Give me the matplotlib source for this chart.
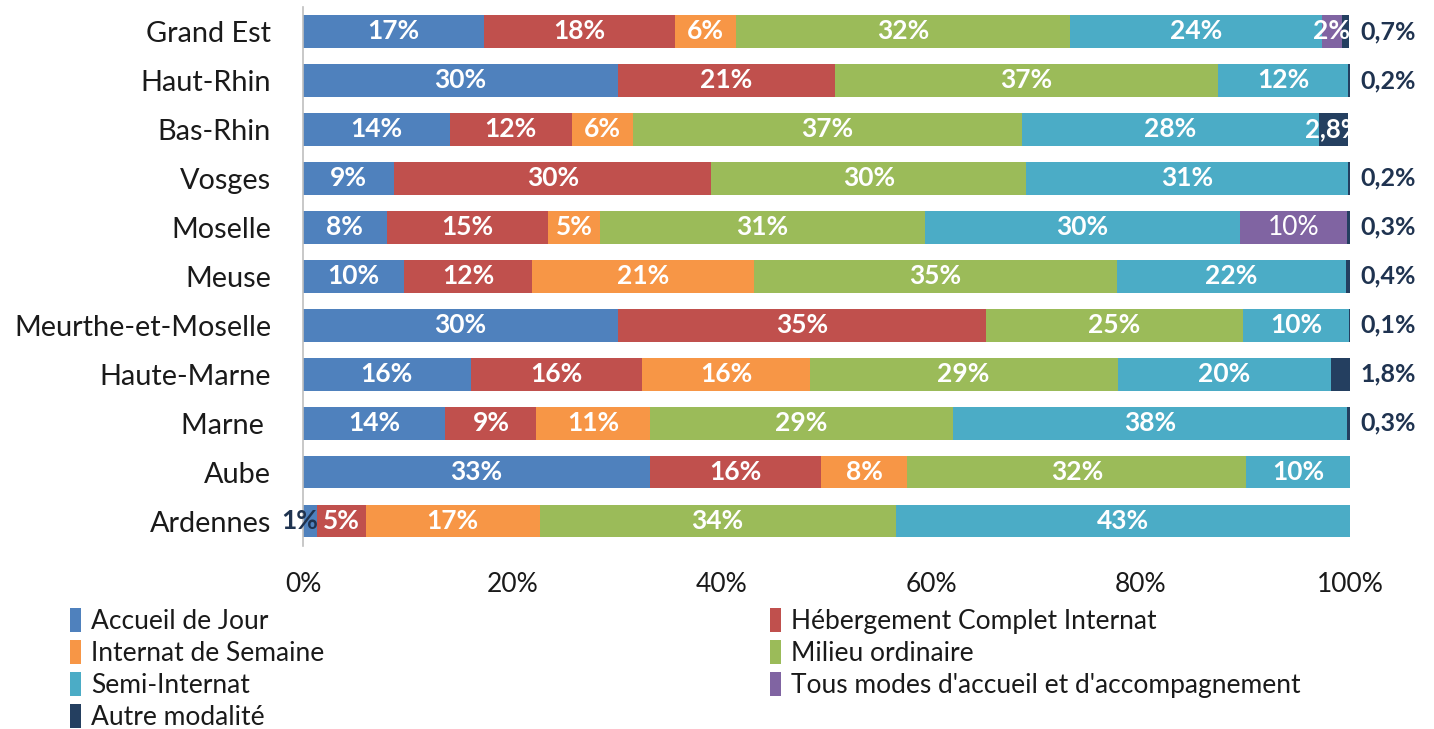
import matplotlib
matplotlib.use("Agg")
import matplotlib.pyplot as plt
from matplotlib.patches import Patch

plt.rcParams['font.family'] = ['Lato', 'DejaVu Sans']

categories = ["Grand Est", "Haut-Rhin", "Bas-Rhin", "Vosges", "Moselle", "Meuse",
              "Meurthe-et-Moselle", "Haute-Marne", "Marne ", "Aube", "Ardennes"]
series_names = ["Accueil de Jour", "Hébergement Complet Internat", "Internat de Semaine",
                "Milieu ordinaire", "Semi-Internat", "Tous modes d'accueil et d'accompagnement",
                "Autre modalité"]
accueil_jour = [17.3, 30.1, 14.0, 8.7, 8.0, 9.6, 30.1, 16.0, 13.6, 33.1, 1.3]
hebergement = [18.2, 20.7, 11.7, 30.3, 15.4, 12.3, 35.1, 16.4, 8.7, 16.4, 4.7]
internat_semaine = [5.9, 0.0, 5.8, 0.0, 5.0, 21.2, 0.0, 16.0, 10.8, 8.2, 16.6]
milieu_ordinaire = [31.9, 36.6, 37.2, 30.1, 31.0, 34.6, 24.6, 29.4, 29.0, 32.4, 34.0]
semi_internat = [24.0, 12.4, 28.3, 30.7, 30.1, 21.9, 10.1, 20.4, 37.6, 9.9, 43.4]
tous_modes = [1.9, 0.0, 0.0, 0.0, 10.2, 0.0, 0.0, 0.0, 0.0, 0.0, 0.0]
autre = [0.7, 0.2, 2.8, 0.2, 0.3, 0.4, 0.1, 1.8, 0.3, 0.0, 0.0]

data = [accueil_jour, hebergement, internat_semaine, milieu_ordinaire,
        semi_internat, tous_modes, autre]
colors = ["#4F81BD", "#C0504D", "#F79646", "#9BBB59", "#4BACC6", "#8064A2", "#243F60"]
navy_text = "#1F3350"

fig = plt.figure(figsize=(14.34, 7.29), dpi=100)
ax = fig.add_axes([303/1434, 1-545.5/729, (1350-303)/1434, (545.5-7)/729])

ypos = list(range(len(categories)))
left = [0.0]*len(categories)
for si, (vals, col) in enumerate(zip(data, colors)):
    ax.barh(ypos, vals, left=left, height=0.67, color=col, linewidth=0.0)
    for i, v in enumerate(vals):
        if v <= 0:
            continue
        cx = left[i] + v/2
        if si == 6:
            txt = f"{v:.1f}".replace('.', ',') + '%'
            if v >= 2:
                ax.text(cx, i, txt, ha='center', va='center', color='white',
                        fontsize=18.5, fontweight='bold')
            else:
                ax.text(101.0, i, txt, ha='left', va='center', color=navy_text,
                        fontsize=18, fontweight='bold')
        else:
            txt = f"{v:.0f}%"
            if si == 0 and v < 2:
                ax.text(left[i] + v + 0.1, i, txt, ha='right', va='center',
                        color=navy_text, fontsize=19, fontweight='bold')
                continue
            weight = 'normal' if (si == 5 and v >= 5) else 'bold'
            ax.text(cx, i, txt, ha='center', va='center', color='white',
                    fontsize=19, fontweight=weight)
    left = [l + v for l, v in zip(left, vals)]

ax.set_xlim(0, 100)
ax.set_ylim(len(categories)-0.5, -0.5)
ax.set_yticks(ypos)
ax.set_yticklabels(categories, fontsize=20.8, color='#1a1a1a')
ax.set_xticks([0, 20, 40, 60, 80, 100])
ax.set_xticklabels([f"{t}%" for t in [0, 20, 40, 60, 80, 100]], fontsize=19, color='#1a1a1a')
ax.tick_params(axis='y', length=0, pad=23)
ax.tick_params(axis='x', length=0, pad=19)
for s in ['top', 'right', 'bottom']:
    ax.spines[s].set_visible(False)
ax.spines['left'].set_color('#BFBFBF')
ax.spines['left'].set_linewidth(1.2)

handles = [Patch(facecolor=c, edgecolor='none', label=n) for c, n in zip(colors, series_names)]
common = dict(frameon=False, fontsize=19, handlelength=0.4, handleheight=1.0,
              handletextpad=0.4, labelspacing=0.23, borderpad=0.0, loc='upper left')
leg1 = fig.legend(handles=[handles[0], handles[2], handles[4], handles[6]],
                  bbox_to_anchor=(57/1434, 1-595/729), **common)
for t in leg1.get_texts():
    t.set_color('#1a1a1a')
leg2 = fig.legend(handles=[handles[1], handles[3], handles[5]],
                  bbox_to_anchor=(757/1434, 1-595/729), **common)
for t in leg2.get_texts():
    t.set_color('#1a1a1a')

fig.savefig("out.png", dpi=100)
